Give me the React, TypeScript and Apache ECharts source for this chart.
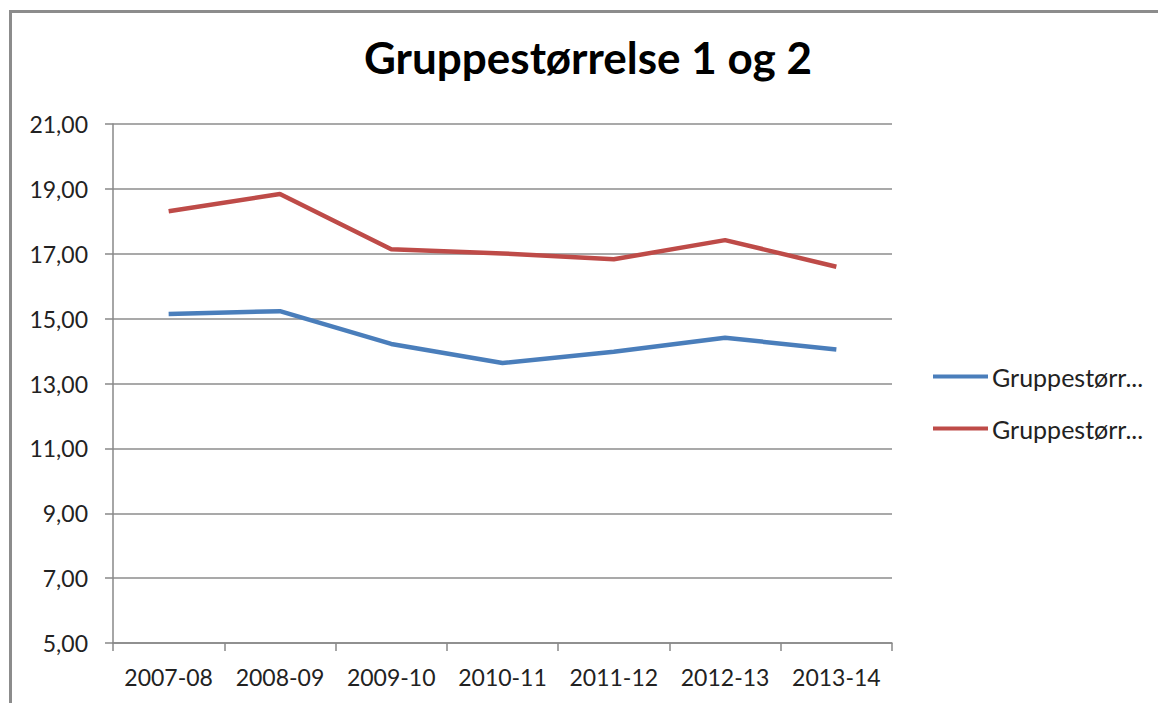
import React, { useEffect, useRef } from "react";
import * as echarts from "echarts";

const title = "Gruppestørrelse 1 og 2";
const categories = ["2007-08", "2008-09", "2009-10", "2010-11", "2011-12", "2012-13", "2013-14"];
const seriesNames = ["Gruppestørrelse 1", "Gruppestørrelse 2"];
const group1 = [15.14, 15.23, 14.22, 13.63, 13.98, 14.41, 14.05];
const group2 = [18.31, 18.84, 17.14, 17.01, 16.83, 17.42, 16.6];
const colors = ["#4A7EBB", "#BE4B48"];

export default function App() {
  const ref = useRef<HTMLDivElement>(null);
  useEffect(() => {
    if (!ref.current) return;
    const chart = echarts.init(ref.current, undefined, { renderer: "svg" });
    const font = "Lato, 'Open Sans', sans-serif";
    chart.setOption({
      animation: false,
      backgroundColor: "#ffffff",
      textStyle: { fontFamily: font },
      title: {
        text: title,
        left: 364,
        top: 35,
        padding: 0,
        textStyle: { fontFamily: font, fontSize: 44, fontWeight: "bold", color: "#000000" },
      },
      graphic: [
        {
          type: "rect",
          shape: { x: 10.5, y: 11.5, width: 1300, height: 900 },
          style: { fill: "none", stroke: "#8c8c8c", lineWidth: 3 },
          silent: true,
        },
      ],
      legend: {
        orient: "vertical",
        left: 933,
        top: 364,
        padding: 0,
        itemWidth: 55,
        itemHeight: 4,
        itemGap: 27,
        icon: "rect",
        data: seriesNames,
        formatter: (name: string) => name.slice(0, 11) + "...",
        textStyle: { fontFamily: font, fontSize: 25, color: "#222222", padding: [0, 0, 0, -1] },
      },
      grid: { left: 113, top: 124, right: 266, bottom: 60, containLabel: false },
      xAxis: {
        type: "category",
        data: categories,
        boundaryGap: true,
        axisLine: { lineStyle: { color: "#888888", width: 1.5 } },
        axisTick: { show: true, length: 8, interval: 0, lineStyle: { color: "#888888", width: 1.5 } },
        axisLabel: { margin: 22, fontSize: 23, color: "#222222", fontFamily: font, interval: 0 },
        splitLine: { show: false },
      },
      yAxis: {
        type: "value",
        min: 5,
        max: 21,
        interval: 2,
        axisLine: { show: true, lineStyle: { color: "#888888", width: 1.5 } },
        axisTick: { show: true, length: 8, lineStyle: { color: "#888888", width: 1.5 } },
        axisLabel: {
          margin: 25,
          fontSize: 23,
          color: "#222222",
          fontFamily: font,
          formatter: (v: number) => v.toFixed(2).replace(".", ","),
        },
        splitLine: { show: true, lineStyle: { color: "#8c8c8c", width: 1.5 } },
      },
      series: [
        {
          name: seriesNames[0],
          type: "line",
          data: group1,
          showSymbol: false,
          symbol: "none",
          lineStyle: { color: colors[0], width: 4.5 },
          itemStyle: { color: colors[0] },
        },
        {
          name: seriesNames[1],
          type: "line",
          data: group2,
          showSymbol: false,
          symbol: "none",
          lineStyle: { color: colors[1], width: 4.5 },
          itemStyle: { color: colors[1] },
        },
      ],
    });
    return () => chart.dispose();
  }, []);
  return (
    <div
      ref={ref}
      style={{ position: "fixed", left: 0, top: 0, width: 1158, height: 703 }}
    />
  );
}
